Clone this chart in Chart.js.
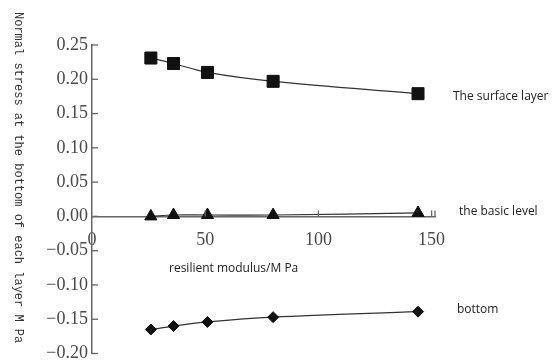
<!DOCTYPE html>
<html>
<head>
<meta charset="utf-8">
<script src="https://cdn.jsdelivr.net/npm/chart.js@4"></script>
<style>
  html,body{margin:0;padding:0;background:#fff;overflow:hidden}
  #wrap{position:relative;width:554px;height:363px}
</style>
</head>
<body>
<div id="wrap"><canvas id="c" width="554" height="363"></canvas></div>
<script>
// ===== Data =====
const MODULUS = [26, 36, 51, 80, 144];
const SURFACE = [0.231, 0.223, 0.210, 0.197, 0.179];
const BASIC   = [0.000, 0.002, 0.002, 0.002, 0.005];
const BOTTOM  = [-0.165, -0.160, -0.154, -0.147, -0.139];
const X_TICKS = [0, 50, 100, 150];
const SERIES_NAMES = ['The surface layer', 'the basic level', 'bottom'];
const Y_TITLE = 'Normal stress at the bottom of each layer M Pa';
const X_TITLE = 'resilient modulus/M Pa';

const pts = (ys) => MODULUS.map((x, i) => ({ x, y: ys[i] }));
const serif = "'Liberation Serif', 'Times New Roman', serif";
const sans = "'Open Sans', 'Liberation Sans', sans-serif";
const mono = "'Liberation Mono', 'Courier New', monospace";
Chart.defaults.font.family = serif;

const ds = (label, ys, style, r) => ({
  label, data: pts(ys),
  borderColor:'#333', borderWidth:1.2, tension:.35,
  pointStyle:style, pointRadius:r, pointHoverRadius:r,
  pointBackgroundColor:'#111', pointBorderColor:'#111', pointBorderWidth:1
});

// inward ticks, rotated y title, free labels
const extras = {
  id:'extras',
  afterDraw(chart){
    const {ctx, scales:{x, y}, chartArea:a} = chart;
    const y0 = y.getPixelForValue(0);
    ctx.save();
    ctx.strokeStyle = '#666'; ctx.lineWidth = 1.3;
    y.ticks.forEach(t => {
      const py = y.getPixelForValue(t.value);
      ctx.beginPath(); ctx.moveTo(a.left, py); ctx.lineTo(a.left + 6, py); ctx.stroke();
    });
    X_TICKS.slice(1).forEach(v => {
      const px = x.getPixelForValue(v);
      ctx.beginPath(); ctx.moveTo(px, y0); ctx.lineTo(px, y0 - 6); ctx.stroke();
    });
    ctx.beginPath(); ctx.moveTo(a.right, y0); ctx.lineTo(a.right, y0 - 6); ctx.stroke();

    // y title, reading top to bottom
    ctx.fillStyle = '#333';
    ctx.font = '12px ' + mono;
    ctx.textAlign = 'left'; ctx.textBaseline = 'middle';
    ctx.translate(18, 12); ctx.rotate(Math.PI / 2);
    ctx.fillText(Y_TITLE, 0, 0);
    ctx.restore();

    ctx.save();
    ctx.fillStyle = '#222';
    ctx.font = '12px ' + sans;
    ctx.textAlign = 'left'; ctx.textBaseline = 'middle';
    ctx.fillText(X_TITLE, 169, 269);
    ctx.fillText(SERIES_NAMES[0], 453, 97);
    ctx.fillText(SERIES_NAMES[1], 459, 212);
    ctx.fillText(SERIES_NAMES[2], 457, 310);
    ctx.restore();
  }
};

new Chart(document.getElementById('c'), {
  type:'line',
  data:{
    datasets:[
      ds(SERIES_NAMES[0], SURFACE, 'rect', 8.5),
      ds(SERIES_NAMES[1], BASIC, 'triangle', 7),
      ds(SERIES_NAMES[2], BOTTOM, 'rectRot', 5.5)
    ]
  },
  options:{
    responsive:false, animation:false, maintainAspectRatio:false,
    layout:{ padding:{ left:0, right:119, top:45, bottom:3 } },
    plugins:{ legend:{display:false}, tooltip:{enabled:false} },
    scales:{
      x:{
        type:'linear', min:0, max:151.5, position:{ y:0 },
        afterBuildTicks:(s) => { s.ticks = X_TICKS.map(v => ({ value:v })); },
        grid:{ drawOnChartArea:false, drawTicks:false },
        border:{ color:'#666', width:1.5 },
        ticks:{ color:'#4a4a4a', font:{ family:serif, size:18 }, padding:13, maxRotation:0,
                callback:(v) => String(v) }
      },
      y:{
        type:'linear', min:-0.2, max:0.25,
        afterFit:(s) => { s.width = 92; s.paddingTop = 0; s.paddingBottom = 0; },
        grid:{ drawOnChartArea:false, drawTicks:false },
        border:{ color:'#666', width:1.5 },
        ticks:{ stepSize:0.05, color:'#4a4a4a', font:{ family:serif, size:18 }, padding:4,
                callback:(v) => v.toFixed(2).replace('-', '\u2212') }
      }
    }
  },
  plugins:[extras]
});
</script>
</body>
</html>
